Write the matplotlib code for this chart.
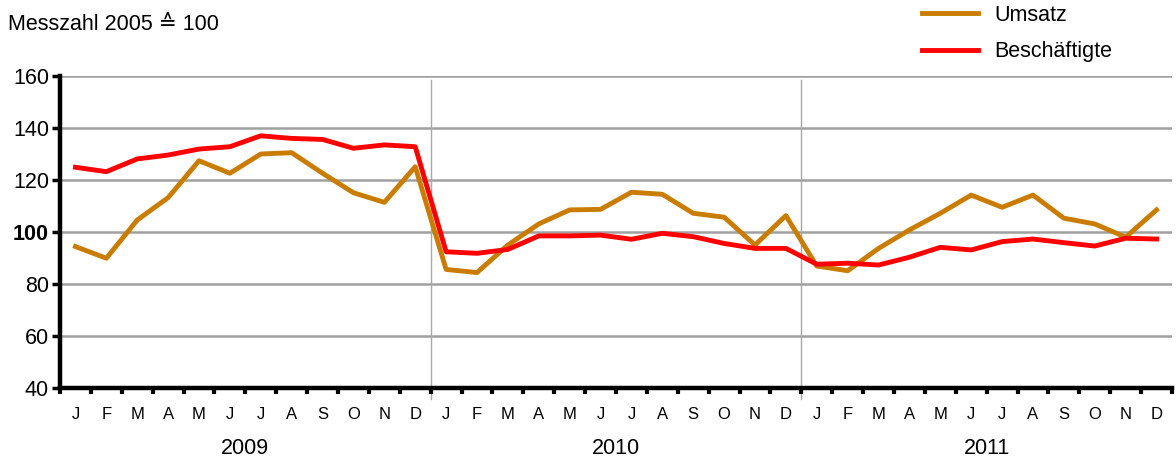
import matplotlib
matplotlib.use('Agg')
import matplotlib.pyplot as plt
import matplotlib.transforms as mtransforms
import numpy as np

plt.rcParams['font.family'] = ['Liberation Sans', 'DejaVu Sans']

# monthly values, Jan 2009 - Dec 2011
years = ['2009', '2010', '2011']
months = ['J', 'F', 'M', 'A', 'M', 'J', 'J', 'A', 'S', 'O', 'N', 'D']
umsatz = [94.4, 89.9, 104.6, 113.2, 127.4, 122.6, 130.0, 130.5, 122.6, 115.1, 111.4, 125.1,
          85.6, 84.4, 95.0, 103.1, 108.5, 108.7, 115.3, 114.5, 107.2, 105.7, 95.0, 106.3,
          86.9, 85.1, 93.7, 100.8, 107.2, 114.2, 109.5, 114.2, 105.3, 103.1, 98.0, 108.5]
beschaeftigte = [124.9, 123.2, 128.1, 129.6, 131.9, 132.8, 137.0, 136.0, 135.6, 132.2, 133.5, 132.8,
                 92.4, 91.8, 93.3, 98.5, 98.5, 98.8, 97.2, 99.5, 98.2, 95.6, 93.7, 93.7,
                 87.6, 88.0, 87.3, 90.3, 94.1, 93.1, 96.3, 97.3, 95.9, 94.6, 97.6, 97.3]
yticks = [40, 60, 80, 100, 120, 140, 160]

c_umsatz = '#C97C00'
c_besch = '#FF0000'

fig = plt.figure(figsize=(11.76, 4.59), dpi=100)
ax = fig.add_axes([60 / 1176, 71 / 459, 1112 / 1176, 312 / 459])

n = len(umsatz)
x = np.arange(n) + 0.5

# grid and year separators
for v in yticks[1:]:
    ax.axhline(v, color='#A0A0A0', lw=1.8, zorder=1)
for k in range(1, len(years)):
    ax.axvline(12 * k, ymin=-0.035, ymax=0.987, color='#A8A8A8', lw=1.0, zorder=1, clip_on=False)

ax.plot(x, umsatz, color=c_umsatz, lw=3.5, label='Umsatz', zorder=3)
ax.plot(x, beschaeftigte, color=c_besch, lw=3.5, label='Beschäftigte', zorder=4)

ax.set_xlim(0, n)
ax.set_ylim(40, 160)

for s in ['top', 'right']:
    ax.spines[s].set_visible(False)
for s in ['left', 'bottom']:
    ax.spines[s].set_linewidth(3.2)
    ax.spines[s].set_zorder(5)

ax.set_yticks(yticks)
ax.set_yticklabels([str(v) for v in yticks], fontsize=15.5)
for lab in ax.get_yticklabels():
    if lab.get_text() == '100':
        lab.set_fontweight('bold')
ax.tick_params(axis='y', direction='out', length=6, width=2.5, pad=2)

ax.set_xticks(np.arange(n + 1))
ax.set_xticklabels([])
ax.tick_params(axis='x', which='major', direction='out', length=4, width=3)
ax.set_xticks(x, minor=True)
ax.set_xticklabels(months * len(years), minor=True, fontsize=12)
ax.tick_params(axis='x', which='minor', length=0, pad=14)

trans = mtransforms.blended_transform_factory(ax.transData, fig.transFigure)
for i, yr in enumerate(years):
    ax.text(12 * i + 6, 11 / 459, yr, transform=trans, ha='center', va='center', fontsize=15.5)

fig.text(8 / 1176, 1 - 24 / 459, 'Messzahl 2005 \u2259 100', ha='left', va='center', fontsize=15.5)

fig.legend(loc='upper left', bbox_to_anchor=(922 / 1176, 1 - 5 / 459), frameon=False,
           fontsize=15.5, handlelength=2.6, handletextpad=0.75, labelspacing=0.7,
           borderpad=0, borderaxespad=0)

fig.savefig('out.png', dpi=100)
